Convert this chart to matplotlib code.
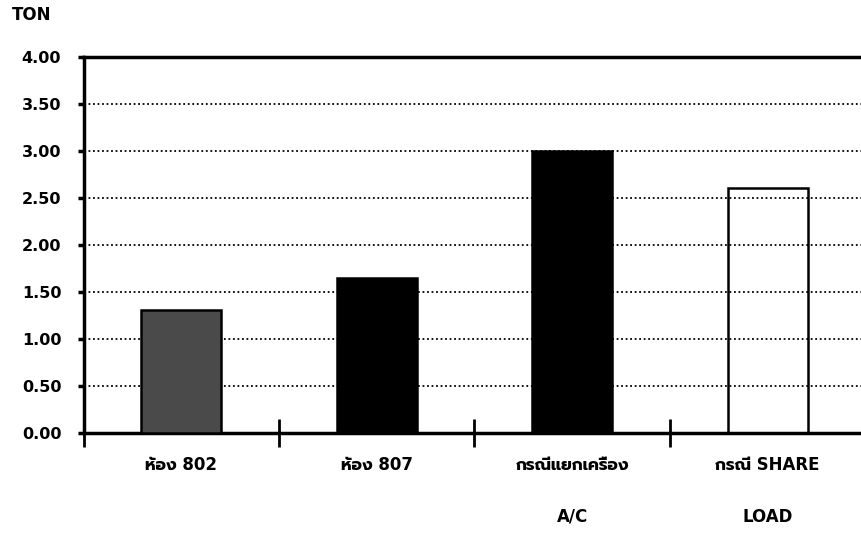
import matplotlib
matplotlib.use("Agg")
import matplotlib.pyplot as plt
import numpy as np

# data
categories_line1 = ["ห้อง 802", "ห้อง 807", "กรณีแยกเครื่อง", "กรณี SHARE"]
categories_line2 = ["", "", "A/C", "LOAD"]
tons = [1.31, 1.65, 3.00, 2.60]
bar_colors = ["#4a4a4a", "#000000", "#000000", "none"]
y_ticks = [0.0, 0.5, 1.0, 1.5, 2.0, 2.5, 3.0, 3.5, 4.0]

plt.rcParams['font.family'] = ['DejaVu Sans', 'Prompt', 'Noto Sans Thai']

fig = plt.figure(figsize=(8.61, 5.52), dpi=100)
ax = fig.add_axes([0.097, 0.2161, 0.908, 0.6812])

x = np.arange(len(tons))
ax.bar(x, tons, width=0.41, color=bar_colors, edgecolor="black",
       linewidth=1.8, zorder=3)

ax.set_xlim(-0.5, 3.5)
ax.set_ylim(0, 4.0)

# dotted gridlines
ax.set_yticks(y_ticks)
ax.set_yticklabels([f"{v:.2f}" for v in y_ticks], fontsize=11.5, fontweight="bold")
ax.yaxis.grid(True, color="black", linestyle=(0, (1, 1.5)), linewidth=1.3)
ax.set_axisbelow(True)
ax.tick_params(axis="y", direction="out", length=4, width=2.5, pad=12)

# category separators as x ticks crossing the axis
ax.set_xticks(np.arange(-0.5, 3.0, 1.0))
ax.set_xticklabels([])
ax.tick_params(axis="x", direction="inout", length=20, width=2)

for side in ["left", "bottom", "top"]:
    ax.spines[side].set_linewidth(2.5)
ax.spines["right"].set_visible(False)

tr = ax.get_xaxis_transform()
for xi, l1, l2 in zip(x, categories_line1, categories_line2):
    ax.text(xi, -0.086, l1, transform=tr, ha="center", va="center",
            fontsize=12, fontweight="bold")
    if l2:
        ax.text(xi, -0.224, l2, transform=tr, ha="center", va="center",
                fontsize=12, fontweight="bold")

fig.text(12 / 861, 1 - 15 / 552, "TON", ha="left", va="center",
         fontsize=12, fontweight="bold")

fig.savefig("out.png", dpi=100)
